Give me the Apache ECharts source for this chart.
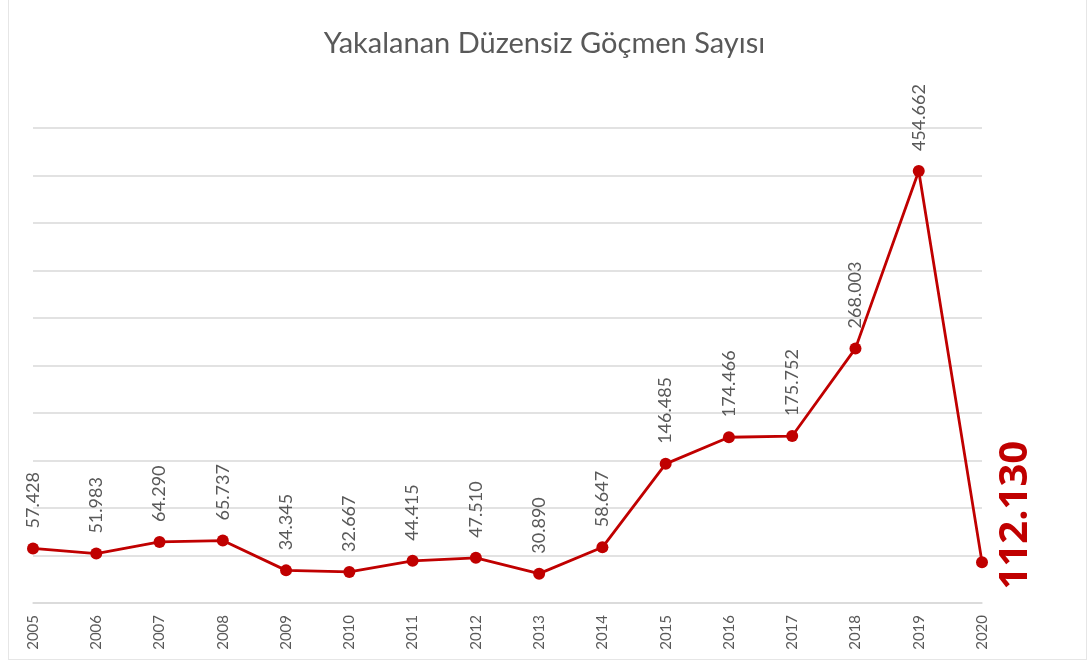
<!DOCTYPE html>
<html>
<head>
<meta charset="utf-8">
<script src="https://cdn.jsdelivr.net/npm/echarts@6/dist/echarts.min.js"></script>
<style>
  html, body { margin: 0; padding: 0; background: #fff; }
  #frame { position: absolute; left: 8px; top: 0; width: 1079px; height: 660px; border: 1px solid #e6e6e6; border-top: none; box-sizing: border-box; }
  #main { position: absolute; left: 0; top: 0; width: 1089px; height: 662px; }
</style>
</head>
<body>
<div id="frame"></div>
<div id="main"></div>
<script>
  // yillar
  var years = ['2005', '2006', '2007', '2008', '2009', '2010', '2011', '2012', '2013', '2014', '2015', '2016', '2017', '2018', '2019', '2020'];
  // grafikteki nokta yukseklikleri (2020 noktasi grafikte ~43 bin seviyesinde cizilmis)
  var values = [57428, 51983, 64290, 65737, 34345, 32667, 44415, 47510, 30890, 58647, 146485, 174466, 175752, 268003, 454662, 43000];
  // nokta etiketleri
  var labels = ['57.428', '51.983', '64.290', '65.737', '34.345', '32.667', '44.415', '47.510', '30.890', '58.647', '146.485', '174.466', '175.752', '268.003', '454.662', '112.130'];

  var red = '#C00000';
  var gray = '#595959';

  var data = values.map(function (v, i) {
    var item = { value: v };
    if (i === values.length - 1) {
      item.label = {
        position: 'right',
        distance: 28,
        rotate: 90,
        align: 'center',
        verticalAlign: 'middle',
        offset: [47, 0],
        fontSize: 40,
        fontWeight: 'bold',
        color: red,
        fontFamily: 'Open Sans'
      };
    }
    return item;
  });

  var myChart = echarts.init(document.getElementById('main'));
  myChart.setOption({
    animation: false,
    title: {
      text: 'Yakalanan Düzensiz Göçmen Sayısı',
      left: 'center',
      top: 24,
      textStyle: { fontFamily: 'Lato', fontSize: 29, fontWeight: 'normal', color: gray }
    },
    grid: { left: 33, right: 107, top: 128, bottom: 59 },
    xAxis: {
      type: 'category',
      boundaryGap: false,
      data: years,
      axisLine: { lineStyle: { color: '#d9d9d9', width: 1.5 } },
      axisTick: { show: false },
      axisLabel: { rotate: 90, fontSize: 15, color: gray, margin: 12, fontFamily: 'Lato', interval: 0 }
    },
    yAxis: {
      type: 'value',
      min: 0,
      max: 500000,
      interval: 50000,
      axisLabel: { show: false },
      axisLine: { show: false },
      axisTick: { show: false },
      splitLine: { lineStyle: { color: '#d9d9d9', width: 1.5 } }
    },
    series: [{
      type: 'line',
      data: data,
      symbol: 'circle',
      symbolSize: 12,
      itemStyle: { color: red },
      lineStyle: { color: red, width: 2.8 },
      label: {
        show: true,
        position: 'top',
        distance: 14,
        rotate: 90,
        align: 'left',
        verticalAlign: 'middle',
        fontSize: 18,
        color: gray,
        fontFamily: 'Lato',
        formatter: function (p) { return labels[p.dataIndex]; }
      }
    }]
  });
</script>
</body>
</html>
